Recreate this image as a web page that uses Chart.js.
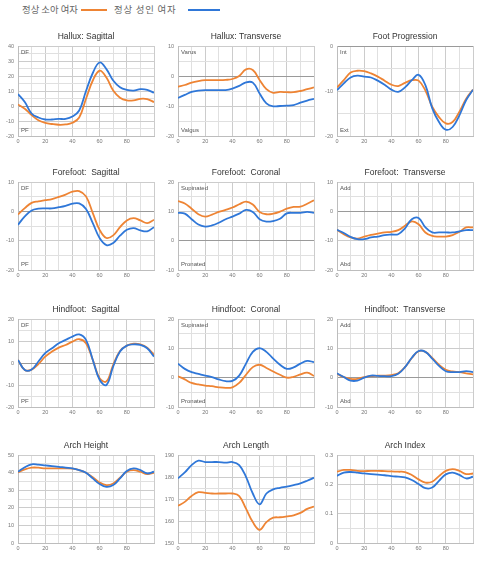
<!DOCTYPE html>
<html>
<head>
<meta charset="utf-8">
<script src="https://cdn.jsdelivr.net/npm/chart.js@4.4.1/dist/chart.umd.min.js"></script>
<style>
  body { margin: 0; background: #fff; }
  #wrap { position: relative; width: 484px; height: 563px; overflow: hidden; }
  .lg { position: absolute; top: 3px; font: 9.4px "Noto Sans CJK KR", sans-serif; color: #666; white-space: nowrap; line-height: 13px; }
  .swatch { position: absolute; top: 9px; height: 2px; }
  canvas { position: absolute; }
</style>
</head>
<body>
<div id="wrap">
  <span class="lg" style="left:22px">정상 소아 여자</span>
  <span class="swatch" style="left:81px;width:26px;background:#ee8434"></span>
  <span class="lg" style="left:114px;letter-spacing:0.8px">정상 성인 여자</span>
  <span class="swatch" style="left:188px;width:32px;background:#2f77d8"></span>
</div>
<script>
// gait cycle (%) sample points
const xs = [0, 5, 10, 15, 20, 25, 30, 35, 40, 45, 50, 55, 60, 65, 70, 75, 80, 85, 90, 95, 100];

// orange = 정상 소아 여자, blue = 정상 성인 여자
const halluxSagChild = [1, -1.8, -6, -9.5, -11.2, -12, -12.5, -12.3, -11.2, -7.7, 4.8, 17, 23.5, 19, 10.3, 5.5, 3.7, 3.7, 4.8, 4.6, 2.6];
const halluxSagAdult = [8, 2.6, -5, -7.7, -9, -9, -8.6, -8.6, -7, -3, 10, 22, 29, 24.6, 17, 12.5, 10.8, 10.3, 11.2, 10.8, 8.8];

const halluxTrChild = [-3.6, -3, -2.2, -1.7, -1.4, -1.4, -1.4, -1.3, -1, 0, 2.2, 2, -1.3, -4.4, -5.6, -5.3, -5.4, -5.4, -5, -4.4, -3.8];
const halluxTrAdult = [-7.3, -6.3, -5.3, -4.9, -4.7, -4.7, -4.7, -4.7, -4.2, -3.3, -2.1, -2.2, -5.8, -9.1, -10.1, -10, -9.9, -9.7, -8.9, -8.2, -7.6];

const footProgChild = [-9.2, -7.6, -5.9, -5.5, -5.6, -6.1, -6.8, -7.7, -8.6, -8.9, -8.2, -7.6, -7.7, -9.9, -13.5, -15.8, -17.2, -16.9, -14.6, -11.7, -9.7];
const footProgAdult = [-9.8, -8.3, -7, -6.6, -6.8, -7, -7.7, -8.6, -9.7, -10.2, -9.2, -7.6, -6.4, -8.7, -13.8, -16.9, -18.6, -18, -15.4, -12, -9.7];

const ffSagChild = [-1.1, 1.1, 2.9, 3.4, 3.8, 4.2, 4.9, 5.7, 6.7, 6.9, 5.1, -0.6, -6.3, -9.1, -8.2, -5.4, -3.1, -2.3, -3.1, -4, -2.9];
const ffSagAdult = [-4.6, -1.7, 0.3, 0.9, 1, 1, 1.4, 1.9, 2.6, 2.7, 0.8, -4, -9.1, -11.5, -10.8, -8.3, -6.3, -5.7, -6.5, -6.8, -5.4];

const ffCorChild = [13.5, 12.7, 10.9, 9, 8.2, 8.9, 9.8, 10.5, 11.3, 12.4, 13.3, 12.3, 9.8, 9, 9.2, 9.9, 10.9, 11.5, 11.6, 12.6, 13.8];
const ffCorAdult = [9.5, 9.2, 7.3, 5.5, 4.8, 5.2, 6.1, 7.3, 8.2, 9.2, 10.5, 9.8, 7.3, 6.5, 6.7, 7.5, 9.3, 9.5, 9.5, 9.8, 9.5];

const ffTrChild = [-6.3, -7.8, -8.9, -9.3, -8.6, -8, -7.6, -7.2, -7, -6.4, -4.9, -3.4, -4.4, -7.2, -8.4, -8.6, -8.6, -8.1, -7, -5.5, -5.5];
const ffTrAdult = [-6.3, -7.4, -8.7, -9.5, -9.5, -8.9, -8.6, -8.1, -7.9, -7.8, -5.8, -2.7, -2.3, -5.5, -7.2, -7.2, -7.2, -7.2, -6.8, -6.4, -6.4];

const hfSagChild = [1.4, -3.2, -3, -0.5, 2.9, 5.2, 7, 8.2, 9.7, 10.8, 9, 1.4, -6.9, -8.4, -0.8, 5.5, 7.9, 8.8, 8.5, 7, 3.7];
const hfSagAdult = [1.4, -3.2, -3, 0.7, 4.5, 6.7, 9, 10.5, 12, 13, 10.5, 1.4, -7.6, -10, -1.6, 5.2, 7.9, 8.5, 8.2, 6.7, 2.9];

const hfCorChild = [0.5, -0.6, -1.8, -2.3, -2.7, -2.9, -3.3, -3.5, -3.3, -1.8, 1, 3.6, 4.4, 3.3, 2.1, 1, 0, 0.3, 1.1, 1.7, 0.6];
const hfCorAdult = [4.8, 3, 1.9, 1.3, 0.7, 0.2, -0.6, -1.2, -1.1, 0.7, 4.8, 8.8, 10.1, 8.8, 6.5, 4.4, 3, 3.5, 4.8, 5.7, 5.3];

const hfTrChild = [1.3, 0.2, -0.4, -0.4, 0.2, 0.5, 0.7, 0.7, 0.9, 1.5, 3.6, 6.7, 9, 8.8, 6.7, 4.4, 2.7, 2.1, 1.9, 1.5, 1.1];
const hfTrAdult = [1.5, 0.2, -1, -1, 0, 0.7, 0.6, 0.5, 0.5, 1.3, 3.6, 6.8, 9.1, 8.8, 6.5, 4, 2.2, 1.9, 1.9, 2.2, 1.9];

const archHChild = [40.1, 41.8, 42.8, 42.8, 42.4, 42.4, 42.4, 42.4, 42.2, 41.4, 39.9, 37.3, 34.4, 32.9, 33.8, 37.1, 40.5, 41.4, 40.5, 39.2, 39.9];
const archHAdult = [40.5, 43, 44.7, 44.5, 44.1, 43.7, 43.3, 42.8, 42.4, 41.4, 39.9, 36.7, 33.5, 31.9, 32.9, 36.7, 40.9, 42.4, 41.4, 39.5, 40.5];

const archLChild = [166.9, 168.7, 171.4, 173.1, 172.8, 172.5, 172.5, 172.5, 172.5, 171.3, 165.6, 159.5, 156, 159.5, 161.5, 161.7, 162.1, 162.6, 163.7, 165.5, 166.6];
const archLAdult = [179.4, 182.1, 185.4, 187.4, 186.8, 186.8, 186.8, 186.5, 186.8, 185.4, 180.1, 172.5, 167.6, 172.5, 174.4, 175.1, 175.6, 176.3, 177.1, 178.3, 179.7];

const archIChild = [0.243, 0.249, 0.249, 0.246, 0.245, 0.246, 0.246, 0.245, 0.244, 0.243, 0.242, 0.232, 0.217, 0.206, 0.209, 0.228, 0.246, 0.252, 0.246, 0.235, 0.237];
const archIAdult = [0.229, 0.240, 0.242, 0.240, 0.237, 0.235, 0.233, 0.231, 0.228, 0.226, 0.224, 0.215, 0.201, 0.187, 0.189, 0.212, 0.234, 0.240, 0.232, 0.220, 0.226];

// panel list: title, series, y range [min, max, labelled step], corner labels
const panels = [
  { title: 'Hallux: Sagittal', child: halluxSagChild, adult: halluxSagAdult, y: [-20, 40, 10], top: 'DF', bottom: 'PF' },
  { title: 'Hallux: Transverse', child: halluxTrChild, adult: halluxTrAdult, y: [-20, 10, 10], top: 'Varus', bottom: 'Valgus' },
  { title: 'Foot Progression', child: footProgChild, adult: footProgAdult, y: [-20, 0, 10], top: 'Int', bottom: 'Ext' },
  { title: 'Forefoot:  Sagittal', child: ffSagChild, adult: ffSagAdult, y: [-20, 10, 10], top: 'DF', bottom: 'PF' },
  { title: 'Forefoot:  Coronal', child: ffCorChild, adult: ffCorAdult, y: [-10, 20, 10], top: 'Supinated', bottom: 'Pronated' },
  { title: 'Forefoot:  Transverse', child: ffTrChild, adult: ffTrAdult, y: [-20, 10, 10], top: 'Add', bottom: 'Abd' },
  { title: 'Hindfoot:  Sagittal', child: hfSagChild, adult: hfSagAdult, y: [-20, 20, 10], top: 'DF', bottom: 'PF' },
  { title: 'Hindfoot:  Coronal', child: hfCorChild, adult: hfCorAdult, y: [-10, 20, 10], top: 'Supinated', bottom: 'Pronated' },
  { title: 'Hindfoot:  Transverse', child: hfTrChild, adult: hfTrAdult, y: [-10, 20, 10], top: 'Add', bottom: 'Abd' },
  { title: 'Arch Height', child: archHChild, adult: archHAdult, y: [0, 50, 10] },
  { title: 'Arch Length', child: archLChild, adult: archLAdult, y: [150, 190, 10] },
  { title: 'Arch Index', child: archIChild, adult: archIAdult, y: [0, 0.3, 0.1] }
];

const ORANGE = '#ee8434';
const BLUE = '#2f77d8';
const FONT = 'Liberation Sans, Arial, sans-serif';

// grid placement
const colLeft = [0, 160, 319];
const rowTop = [28, 164, 301, 437];
const rowPlotH = [90, 88, 88, 88];
const TITLE_H = 18, AXIS_W = 18, AXIS_H = 12, PLOT_W = 136;

function isMajor(v, step) {
  const r = v / step;
  return Math.abs(r - Math.round(r)) < 1e-6;
}

// small labels inside the plot corners (DF / PF etc.)
const cornerLabels = {
  id: 'cornerLabels',
  beforeDatasetsDraw(chart, args, opts) {
    const a = chart.chartArea, ctx = chart.ctx;
    ctx.save();
    ctx.font = '6px ' + FONT;
    ctx.fillStyle = '#555';
    ctx.textBaseline = 'middle';
    if (opts.top) ctx.fillText(opts.top, a.left + 3, a.top + 6);
    if (opts.bottom) ctx.fillText(opts.bottom, a.left + 3, a.bottom - 6);
    ctx.restore();
  }
};

const wrap = document.getElementById('wrap');

panels.forEach(function(p, i) {
  const col = i % 3, row = Math.floor(i / 3);
  const plotH = rowPlotH[row];
  const canvas = document.createElement('canvas');
  canvas.width = AXIS_W + PLOT_W + 4;
  canvas.height = TITLE_H + plotH + AXIS_H;
  canvas.style.left = colLeft[col] + 'px';
  canvas.style.top = rowTop[row] + 'px';
  wrap.appendChild(canvas);

  const yMin = p.y[0], yMax = p.y[1], major = p.y[2];

  new Chart(canvas, {
    type: 'line',
    data: {
      datasets: [
        { data: xs.map((x, k) => ({ x: x, y: p.adult[k] })), borderColor: BLUE },
        { data: xs.map((x, k) => ({ x: x, y: p.child[k] })), borderColor: ORANGE }
      ]
    },
    options: {
      responsive: false,
      animation: false,
      devicePixelRatio: 1,
      layout: { padding: { top: 0, right: 4, bottom: 0, left: 0 } },
      elements: {
        line: { borderWidth: 1.8, tension: 0.4, fill: false, capBezierPoints: true },
        point: { radius: 0 }
      },
      plugins: {
        legend: { display: false },
        tooltip: { enabled: false },
        title: {
          display: true,
          text: p.title,
          fullSize: false,
          color: '#333',
          font: { family: FONT, size: 8.5, weight: 'normal', lineHeight: '10px' },
          padding: { top: 4, bottom: 4 }
        },
        cornerLabels: { top: p.top, bottom: p.bottom }
      },
      scales: {
        x: {
          type: 'linear',
          min: 0,
          max: 100,
          afterFit: function(scale) { scale.height = AXIS_H; },
          ticks: {
            stepSize: 10,
            autoSkip: false,
            maxRotation: 0,
            padding: 2,
            color: '#777',
            font: { family: FONT, size: 5.5 },
            callback: v => (v % 20 === 0 && v < 100) ? String(v) : ''
          },
          grid: {
            drawTicks: false,
            color: ctx => (ctx.tick && ctx.tick.value % 20 === 0) ? '#cccccc' : '#e0e0e0'
          },
          border: { color: '#bdbdbd' }
        },
        y: {
          min: yMin,
          max: yMax,
          afterFit: function(scale) { scale.width = AXIS_W; },
          ticks: {
            stepSize: major / 2,
            autoSkip: false,
            padding: 4,
            color: '#777',
            font: { family: FONT, size: 5.5 },
            callback: v => isMajor(v, major) ? String(Number(v.toFixed(2))) : ''
          },
          grid: {
            drawTicks: false,
            color: function(ctx) {
              if (!ctx.tick) return '#e0e0e0';
              const v = ctx.tick.value;
              if (Math.abs(v) < 1e-9 && yMin < 0) return '#9a9a9a';
              return isMajor(v, major) ? '#cccccc' : '#e0e0e0';
            }
          },
          border: { color: '#bdbdbd' }
        }
      }
    },
    plugins: [cornerLabels]
  });
});
</script>
</body>
</html>
